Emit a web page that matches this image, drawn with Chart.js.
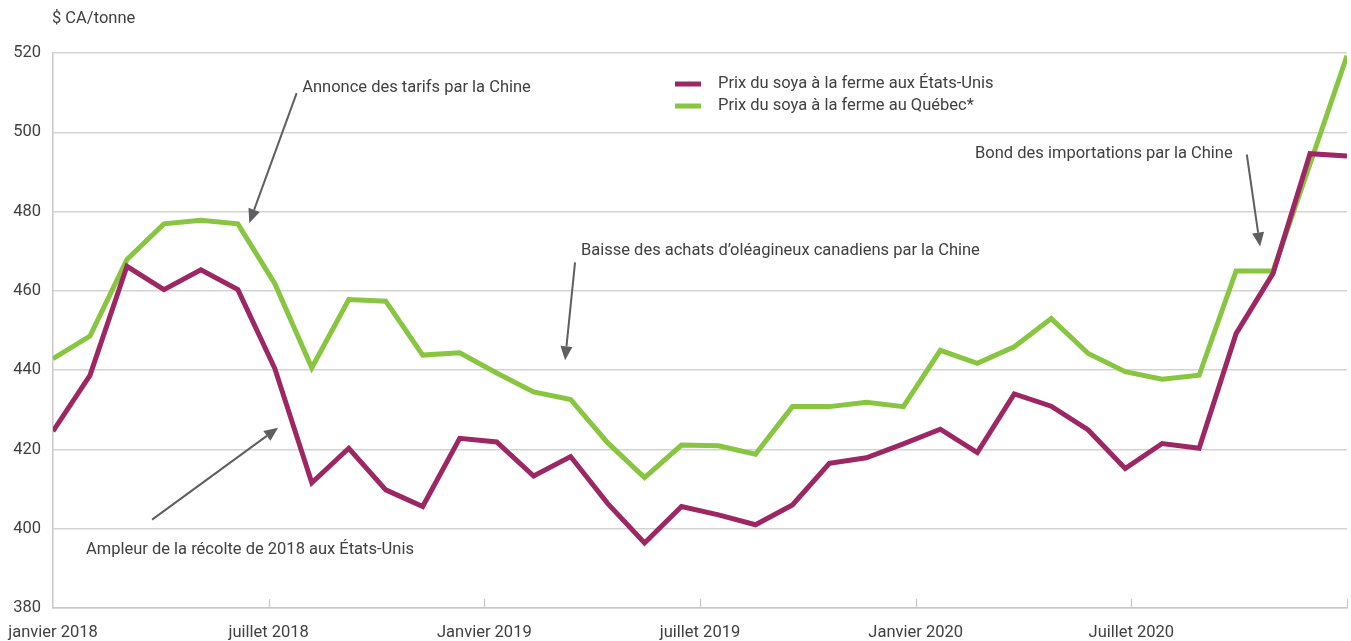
<!DOCTYPE html>
<html>
<head>
<meta charset="utf-8">
<script src="https://cdn.jsdelivr.net/npm/chart.js@4.4.1/dist/chart.umd.min.js"></script>
<style>
  html, body { margin: 0; padding: 0; background: #ffffff; }
  #wrap { width: 1351px; height: 641px; position: relative; }
</style>
</head>
<body>
<div id="wrap"><canvas id="c" width="1351" height="641"></canvas></div>
<script>
// ---- Data ----
const months = Array.from({length: 36}, (_, i) => i); // Jan 2018 .. Dec 2020 (month index)
const xTickLabels = ["janvier 2018", "juillet 2018", "Janvier 2019", "juillet 2019", "Janvier 2020", "Juillet 2020", ""];
const usPrice = [424.6, 438.7, 466.2, 460.3, 465.3, 460.3, 440.4, 411.6, 420.3, 409.8, 405.6, 422.8,
                 421.9, 413.3, 418.2, 406.4, 396.4, 405.6, 403.5, 401.0, 406.0, 416.5, 417.9, 421.4,
                 425.1, 419.2, 434.0, 430.9, 424.9, 415.2, 421.5, 420.3, 449.2, 464.4, 494.6, 494.0];
const qcPrice = [442.9, 448.6, 467.9, 476.9, 477.8, 476.9, 461.8, 440.6, 457.8, 457.4, 443.8, 444.4,
                 439.3, 434.5, 432.6, 421.7, 412.9, 421.1, 420.9, 418.8, 430.8, 430.8, 431.9, 430.8,
                 445.0, 441.7, 445.9, 453.0, 444.2, 439.6, 437.7, 438.7, 465.0, 465.0, 492.0, 519.3];
const yTicks = [380, 400, 420, 440, 460, 480, 500, 520];
const seriesLabels = ["Prix du soya à la ferme aux États-Unis", "Prix du soya à la ferme au Québec*"];
const yAxisTitle = "$ CA/tonne";

// Annotations (text anchor + arrow, in data coordinates: x = month index, y = value)
const annotations = [
  { text: "Annonce des tarifs par la Chine", tx: 6.74, ty: 511.2, ax1: 6.59, ay1: 509.9, ax2: 5.31, ay2: 477.1 },
  { text: "Baisse des achats d\u2019oléagineux canadiens par la Chine", tx: 14.28, ty: 470.2, ax1: 14.12, ay1: 467.2, ax2: 13.85, ay2: 442.5 },
  { text: "Bond des importations par la Chine", tx: 24.94, ty: 494.6, ax1: 32.29, ay1: 494.4, ax2: 32.65, ay2: 471.2 },
  { text: "Ampleur de la récolte de 2018 aux États-Unis", tx: 0.89, ty: 394.7, ax1: 2.68, ay1: 402.3, ax2: 6.09, ay2: 425.5 }
];

// ---- Style ----
const FONT = "'Roboto', 'DejaVu Sans', sans-serif";
const FSIZE = 16.5;
const PURPLE = "#9c2763";
const GREEN = "#88c541";
const TEXT = "#404040";
const ARROW = "#5f5f5f";
const LINE_W = 5;

const overlay = {
  id: 'overlay',
  afterDatasetsDraw(chart) {
    const ctx = chart.ctx;
    const xs = chart.scales.x, ys = chart.scales.y;
    const area = chart.chartArea;
    ctx.save();
    // inner tick marks on x axis
    ctx.strokeStyle = "#c8c8c8";
    ctx.lineWidth = 1.2;
    xs.ticks.forEach((t, i) => {
      if (i === 0) return;
      const px = Math.round(xs.getPixelForValue(t.value)) + 0.5;
      ctx.beginPath();
      ctx.moveTo(px, area.bottom);
      ctx.lineTo(px, area.bottom - 9);
      ctx.stroke();
    });
    // y axis title
    ctx.fillStyle = TEXT;
    ctx.font = FSIZE + "px " + FONT;
    ctx.textAlign = "left";
    ctx.textBaseline = "middle";
    ctx.fillText(yAxisTitle, area.left - 1, area.top - 34);
    // legend
    const lx = 675, ly = [84, 106];
    chart.data.datasets.forEach((ds, i) => {
      ctx.strokeStyle = ds.borderColor;
      ctx.lineWidth = LINE_W;
      ctx.beginPath();
      ctx.moveTo(lx, ly[i]);
      ctx.lineTo(lx + 26, ly[i]);
      ctx.stroke();
      ctx.fillStyle = TEXT;
      ctx.fillText(ds.label, lx + 43, ly[i]);
    });
    // annotations
    annotations.forEach(a => {
      ctx.fillStyle = TEXT;
      ctx.fillText(a.text, xs.getPixelForValue(a.tx), ys.getPixelForValue(a.ty));
      const x1 = xs.getPixelForValue(a.ax1), y1 = ys.getPixelForValue(a.ay1);
      const x2 = xs.getPixelForValue(a.ax2), y2 = ys.getPixelForValue(a.ay2);
      const ang = Math.atan2(y2 - y1, x2 - x1);
      const headLen = 14, headW = 6;
      const bx = x2 - headLen * Math.cos(ang), by = y2 - headLen * Math.sin(ang);
      ctx.strokeStyle = ARROW;
      ctx.lineWidth = 2;
      ctx.beginPath();
      ctx.moveTo(x1, y1);
      ctx.lineTo(bx, by);
      ctx.stroke();
      ctx.fillStyle = ARROW;
      ctx.beginPath();
      ctx.moveTo(x2, y2);
      ctx.lineTo(bx + headW * Math.sin(ang), by - headW * Math.cos(ang));
      ctx.lineTo(bx - headW * Math.sin(ang), by + headW * Math.cos(ang));
      ctx.closePath();
      ctx.fill();
    });
    ctx.restore();
  }
};

new Chart(document.getElementById('c'), {
  type: 'line',
  data: {
    datasets: [
      { label: seriesLabels[0], data: months.map((m, i) => ({x: m, y: usPrice[i]})),
        borderColor: PURPLE, backgroundColor: PURPLE, borderWidth: LINE_W, pointRadius: 0, tension: 0,
        borderJoinStyle: 'miter', borderCapStyle: 'butt' },
      { label: seriesLabels[1], data: months.map((m, i) => ({x: m, y: qcPrice[i]})),
        borderColor: GREEN, backgroundColor: GREEN, borderWidth: LINE_W, pointRadius: 0, tension: 0,
        borderJoinStyle: 'miter', borderCapStyle: 'butt' }
    ]
  },
  options: {
    responsive: false,
    animation: false,
    events: [],
    layout: { padding: { top: 53, right: 4, left: 0, bottom: 0 } },
    plugins: { legend: { display: false }, tooltip: { enabled: false }, title: { display: false } },
    scales: {
      x: {
        type: 'linear',
        min: 0, max: 35,
        afterBuildTicks(scale) {
          scale.ticks = xTickLabels.map((_, i) => ({ value: 35 * i / 6 }));
        },
        afterFit(scale) { scale.height = 33; scale.paddingLeft = 0; scale.paddingRight = 0; },
        grid: { display: false, drawTicks: false },
        border: { display: true, color: "#c8c8c8", width: 1.5 },
        ticks: {
          autoSkip: false, maxRotation: 0, padding: 15,
          color: TEXT, font: { family: FONT, size: FSIZE },
          callback: (v, i) => xTickLabels[i]
        }
      },
      y: {
        min: 380, max: 520,
        afterBuildTicks(scale) { scale.ticks = yTicks.map(v => ({ value: v })); },
        afterFit(scale) { scale.width = 53; scale.paddingTop = 0; scale.paddingBottom = 0; },
        grid: { color: "#d3d3d3", lineWidth: 1.5, drawTicks: false },
        border: { display: true, color: "#c8c8c8", width: 1.5 },
        ticks: { padding: 12, color: TEXT, font: { family: FONT, size: FSIZE } }
      }
    }
  },
  plugins: [overlay]
});
</script>
</body>
</html>
